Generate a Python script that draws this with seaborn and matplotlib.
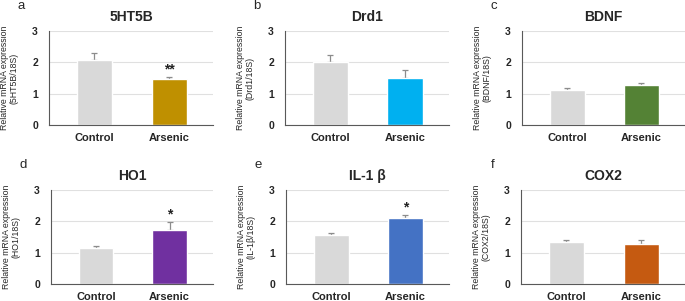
import seaborn as sns
import matplotlib.pyplot as plt
import pandas as pd

# data
groups = ['Control', 'Arsenic']
genes = ['5HT5B', 'Drd1', 'BDNF', 'HO1', 'IL-1 β', 'COX2']
ratio_labels = ['5HT5B/18S', 'Drd1/18S', 'BDNF/18S', 'HO1/18S', 'IL-1β/18S', 'COX2/18S']
panel_letters = ['a', 'b', 'c', 'd', 'e', 'f']
control_mean = [2.07, 2.00, 1.12, 1.15, 1.55, 1.34]
control_err = [0.23, 0.22, 0.05, 0.05, 0.07, 0.07]
arsenic_mean = [1.47, 1.50, 1.27, 1.72, 2.10, 1.29]
arsenic_err = [0.06, 0.27, 0.06, 0.25, 0.09, 0.10]
stars = ['**', '', '', '*', '*', '']
arsenic_colors = ['#bf9000', '#00b0f0', '#548235', '#7030a0', '#4472c4', '#c55a11']
control_color = '#d9d9d9'

sns.set_style('white')
plt.rcParams['font.family'] = ['Liberation Sans', 'DejaVu Sans']

fig = plt.figure(figsize=(6.85, 3.01), dpi=100)
W, H = 685, 301
# axes boxes in pixels: left, right, top(y=3), bottom(y=0)
boxes = [(49, 213, 31, 125), (285, 449, 31, 125), (522, 685, 31, 125),
         (51, 213, 190, 284), (286, 449, 190, 284), (521, 685, 190, 284)]

for i in range(6):
    l, r, t, b = boxes[i]
    ax = fig.add_axes([l / W, 1 - b / H, (r - l) / W, (b - t) / H])
    df = pd.DataFrame({'group': groups, 'value': [control_mean[i], arsenic_mean[i]]})
    sns.barplot(data=df, x='group', y='value', hue='group', palette=[control_color, arsenic_colors[i]],
                width=0.47, saturation=1, legend=False, ax=ax, zorder=2)
    errs = [control_err[i], arsenic_err[i]]
    means = [control_mean[i], arsenic_mean[i]]
    ax.errorbar([0, 1], means, yerr=[[0, 0], errs], fmt='none', ecolor='#8c8c8c',
                elinewidth=0.9, capsize=2.5, capthick=0.9, zorder=1.9)
    if stars[i]:
        ax.text(1, means[1] + errs[1] + 0.25, stars[i], ha='center', va='center',
                fontsize=10, fontweight='bold', color='#222222')
    ax.set_ylim(0, 3)
    ax.set_xlim(-0.61, 1.59)
    ax.set_yticks([0, 1, 2, 3])
    ax.yaxis.grid(True, color='#e0e0e0', linewidth=0.8, zorder=0)
    ax.set_axisbelow(True)
    sns.despine(ax=ax)
    ax.spines['left'].set_color('#595959')
    ax.spines['bottom'].set_color('#595959')
    ax.tick_params(axis='y', length=0, pad=8)
    ax.tick_params(axis='x', length=0, pad=6)
    for lab in ax.get_yticklabels():
        lab.set_fontsize(7.5)
        lab.set_fontweight('bold')
    for lab in ax.get_xticklabels():
        lab.set_fontsize(8)
        lab.set_fontweight('bold')
    ax.set_xlabel('')
    ax.set_ylabel('Relative mRNA expression\n(' + ratio_labels[i] + ')', fontsize=6.3, labelpad=10,
                  linespacing=1.1)
    ax.set_title(genes[i], fontsize=10, fontweight='bold', pad=7)
    ax.text(-0.17, 1.27, panel_letters[i], transform=ax.transAxes, fontsize=9.5,
            ha='center', va='center')

plt.savefig('out.png', dpi=100)
